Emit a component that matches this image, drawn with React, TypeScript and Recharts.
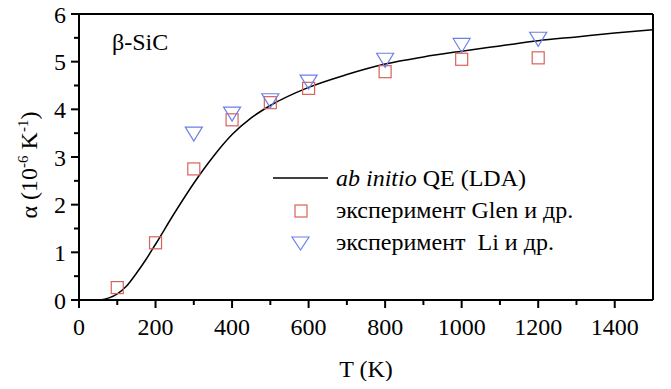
import { ComposedChart, Line, Scatter, XAxis, YAxis, ReferenceLine, Label } from "recharts";

// ab initio QE (LDA) curve
const curveT = [56, 80, 100, 125, 150, 175, 200, 250, 300, 350, 400, 450, 500, 600, 700, 800, 900, 1000, 1100, 1200, 1300, 1400, 1500];
const curveAlpha = [0, 0.05, 0.13, 0.3, 0.56, 0.85, 1.17, 1.83, 2.45, 3.0, 3.47, 3.82, 4.08, 4.46, 4.73, 4.95, 5.1, 5.22, 5.33, 5.44, 5.52, 5.6, 5.67];

// эксперимент Glen и др.
const glenT = [100, 200, 300, 400, 500, 600, 800, 1000, 1200];
const glenAlpha = [0.26, 1.2, 2.75, 3.78, 4.14, 4.44, 4.79, 5.05, 5.08];

// эксперимент Li и др.
const liT = [300, 400, 500, 600, 800, 1000, 1200];
const liAlpha = [3.48, 3.9, 4.18, 4.57, 5.03, 5.34, 5.47];

const xTicks = [0, 100, 200, 300, 400, 500, 600, 700, 800, 900, 1000, 1100, 1200, 1300, 1400];
const yTicks = [0, 0.5, 1, 1.5, 2, 2.5, 3, 3.5, 4, 4.5, 5, 5.5, 6];

const curve = curveT.map((t, i) => ({ t, a: curveAlpha[i] }));
const glen = glenT.map((t, i) => ({ t, a: glenAlpha[i] }));
const li = liT.map((t, i) => ({ t, a: liAlpha[i] }));

const FONT = '"Tinos", "Liberation Serif", "Nimbus Roman", "FreeSerif", "Times New Roman", serif';
const txt = { fontFamily: FONT, fontSize: 24, fill: "#000" };
const RED = "#d8625b";
const BLUE = "#6c7fe6";

function XTick({ x, y, payload }: any) {
  const major = payload.value % 200 === 0;
  return (
    <g>
      <line x1={x} y1={y} x2={x} y2={y + (major ? 8 : 5)} stroke="#000" strokeWidth={2} />
      {major && (
        <text x={x} y={y + 35} textAnchor="middle" style={txt}>
          {payload.value}
        </text>
      )}
    </g>
  );
}

function YTick({ x, y, payload }: any) {
  const major = Number.isInteger(payload.value);
  return (
    <g>
      <line x1={x} y1={y} x2={x - (major ? 8 : 5)} y2={y} stroke="#000" strokeWidth={2} />
      {major && (
        <text x={x - 13} y={y + 8.5} textAnchor="end" style={txt}>
          {payload.value}
        </text>
      )}
    </g>
  );
}

const Square = ({ cx, cy }: any) => (
  <rect x={cx - 6} y={cy - 6} width={12} height={12} fill="none" stroke={RED} strokeWidth={1.2} />
);

const Tri = ({ cx, cy }: any) => (
  <polygon
    points={`${cx - 8.5},${cy - 7} ${cx + 8.5},${cy - 7} ${cx},${cy + 7}`}
    fill="none"
    stroke={BLUE}
    strokeWidth={1.2}
  />
);

const YLabel = () => (
  <text transform="translate(37,165) rotate(-90)" textAnchor="middle" style={txt}>
    α (10<tspan dy={-9} style={{ fontSize: 15 }}>-6</tspan>
    <tspan dy={9}> K</tspan>
    <tspan dy={-9} style={{ fontSize: 15 }}>-1</tspan>
    <tspan dy={9}>)</tspan>
  </text>
);

export default function App() {
  return (
    <div style={{ width: 671, height: 389, margin: -8, background: "#fff", fontFamily: FONT }}>
      <ComposedChart width={671} height={389} margin={{ top: 14, right: 18, left: 0, bottom: 0 }}>
        <XAxis
          dataKey="t"
          type="number"
          domain={[0, 1500]}
          ticks={xTicks}
          interval={0}
          height={89}
          tickSize={0}
          tickMargin={0}
          tickLine={false}
          tick={<XTick />}
          axisLine={{ stroke: "#000", strokeWidth: 2 }}
          allowDataOverflow
        >
          <Label
            content={() => (
              <text x={366} y={377} textAnchor="middle" style={txt}>
                T (K)
              </text>
            )}
          />
        </XAxis>
        <YAxis
          dataKey="a"
          type="number"
          domain={[0, 6]}
          ticks={yTicks}
          interval={0}
          width={79}
          tickSize={0}
          tickMargin={0}
          tickLine={false}
          tick={<YTick />}
          axisLine={{ stroke: "#000", strokeWidth: 2 }}
          allowDataOverflow
        >
          <Label content={() => <YLabel />} />
        </YAxis>
        <ReferenceLine x={1500} stroke="#000" strokeWidth={2} />
        <ReferenceLine y={6} stroke="#000" strokeWidth={2} />
        <Line
          data={curve}
          dataKey="a"
          type="monotone"
          stroke="#000"
          strokeWidth={1.5}
          dot={false}
          activeDot={false}
          isAnimationActive={false}
        />
        <Scatter data={glen} dataKey="a" shape={<Square />} isAnimationActive={false} />
        <Scatter data={li} dataKey="a" shape={<Tri />} isAnimationActive={false} />
      </ComposedChart>
      <svg width={671} height={389} style={{ display: "block", marginTop: -389, position: "relative", pointerEvents: "none" }}>
        <text x={112} y={50} style={txt}>
          β-SiC
        </text>
        <line x1={273} y1={178} x2={328} y2={178} stroke="#000" strokeWidth={1.5} />
        <text x={336} y={186} style={txt}>
          <tspan style={{ fontStyle: "italic" }}>ab initio</tspan> QE (LDA)
        </text>
        <rect x={295} y={205} width={12} height={12} fill="none" stroke={RED} strokeWidth={1.2} />
        <text x={336} y={218} style={txt}>
          эксперимент Glen и др.
        </text>
        <polygon points="292,237 309,237 300.5,250" fill="none" stroke={BLUE} strokeWidth={1.2} />
        <text x={336} y={250} style={{ ...txt, whiteSpace: "pre" }}>
          эксперимент  Li и др.
        </text>
      </svg>
    </div>
  );
}
